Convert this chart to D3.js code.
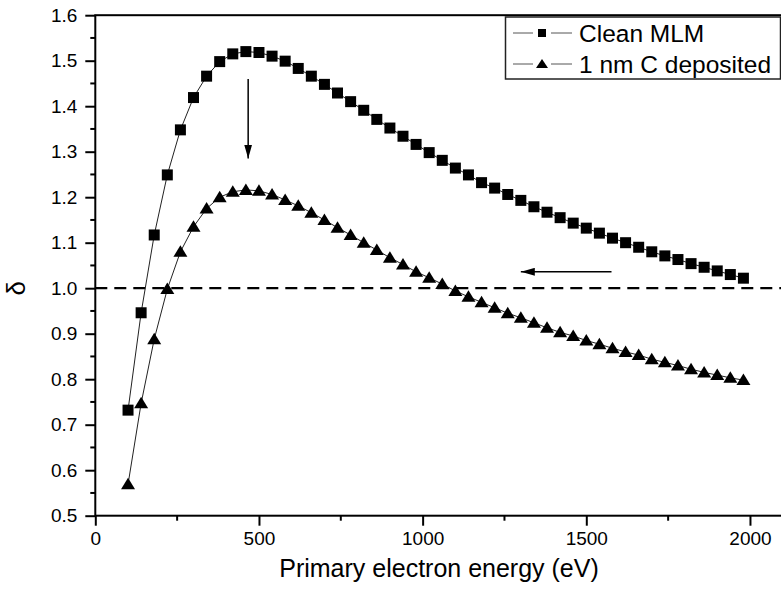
<!DOCTYPE html>
<meta charset="utf-8">
<head>
	<title>Secondary electron yield</title>
	<script type="text/javascript" src="https://cdn.jsdelivr.net/npm/d3@7"></script>
	<style>
		body { margin: 0; background: #fff; }
		svg { display: block; font-family: "Liberation Sans", Arial, sans-serif; }
		.tick text { font-size: 19px; fill: #000; }
	</style>
</head>

<body>
<div id="chart"></div>

<script>
	// primary energy (eV)
	var energy = [100, 140, 180, 220, 260, 300, 340, 380, 420, 460, 500, 540, 580, 620, 660, 700,
		740, 780, 820, 860, 900, 940, 980, 1020, 1060, 1100, 1140, 1180, 1220, 1260, 1300, 1340,
		1380, 1420, 1460, 1500, 1540, 1580, 1620, 1660, 1700, 1740, 1780, 1820, 1860, 1900, 1940, 1980];

	var cleanMLM = [0.732, 0.946, 1.117, 1.249, 1.348, 1.419, 1.466, 1.498, 1.515, 1.520, 1.518, 1.510,
		1.499, 1.483, 1.466, 1.448, 1.429, 1.410, 1.391, 1.371, 1.352, 1.334, 1.316, 1.298,
		1.281, 1.264, 1.249, 1.232, 1.220, 1.206, 1.193, 1.179, 1.167, 1.155, 1.143, 1.132,
		1.121, 1.110, 1.100, 1.090, 1.080, 1.071, 1.063, 1.054, 1.046, 1.038, 1.030, 1.022];

	var carbon1nm = [0.569, 0.747, 0.888, 0.998, 1.080, 1.135, 1.175, 1.200, 1.212, 1.216, 1.214, 1.206,
		1.194, 1.181, 1.166, 1.150, 1.133, 1.117, 1.100, 1.084, 1.067, 1.052, 1.036, 1.023,
		1.009, 0.994, 0.981, 0.969, 0.957, 0.945, 0.935, 0.924, 0.913, 0.903, 0.895, 0.885,
		0.877, 0.868, 0.860, 0.853, 0.844, 0.837, 0.830, 0.822, 0.815, 0.809, 0.803, 0.798];

	var xTicks = [0, 500, 1000, 1500, 2000];
	var yTicks = [0.5, 0.6, 0.7, 0.8, 0.9, 1.0, 1.1, 1.2, 1.3, 1.4, 1.5, 1.6];
	var legendLabels = ["Clean MLM", "1 nm C deposited"];

	// arrows [x1, y1, x2, y2] in data units
	var arrows = [[467, 1.46, 467, 1.285], [1577, 1.036, 1300, 1.036]];

	var width = 781, height = 593;

	var x = d3.scaleLinear().domain([0, 2100]).range([95.3, 782.7]);
	var y = d3.scaleLinear().domain([0.5, 1.6]).range([515.7, 15.2]);

	var svg = d3.select("#chart").append("svg")
		.attr("width", width)
		.attr("height", height);

	svg.append("defs").append("marker")
		.attr("id", "head")
		.attr("viewBox", "0 0 14 8")
		.attr("refX", 14).attr("refY", 4)
		.attr("markerWidth", 14).attr("markerHeight", 8)
		.attr("markerUnits", "userSpaceOnUse")
		.attr("orient", "auto")
		.append("path").attr("d", "M0,0 L14,4 L0,8 Z").attr("fill", "#000");

	// frame (top line + axes)
	svg.append("rect")
		.attr("x", x(0)).attr("y", y(1.6))
		.attr("width", x(2100) - x(0)).attr("height", y(0.5) - y(1.6))
		.attr("fill", "none").attr("stroke", "#000").attr("stroke-width", 2);

	// minor ticks
	svg.append("g").selectAll("line").data([250, 750, 1250, 1750]).join("line")
		.attr("x1", d => x(d)).attr("x2", d => x(d))
		.attr("y1", y(0.5)).attr("y2", y(0.5) + 5)
		.attr("stroke", "#000").attr("stroke-width", 2);

	svg.append("g").selectAll("line").data([0.55, 0.65, 0.75, 0.85, 0.95, 1.05, 1.15, 1.25, 1.35, 1.45, 1.55]).join("line")
		.attr("x1", x(0) - 5).attr("x2", x(0))
		.attr("y1", d => y(d)).attr("y2", d => y(d))
		.attr("stroke", "#000").attr("stroke-width", 2);

	var xAxis = svg.append("g")
		.attr("transform", "translate(0," + y(0.5) + ")")
		.call(d3.axisBottom(x).tickValues(xTicks).tickSize(10).tickPadding(6).tickFormat(d3.format("d")));
	xAxis.select(".domain").remove();
	xAxis.selectAll(".tick line").attr("stroke-width", 2);

	var yAxis = svg.append("g")
		.attr("transform", "translate(" + x(0) + ",0)")
		.call(d3.axisLeft(y).tickValues(yTicks).tickSize(10).tickPadding(8).tickFormat(d3.format(".1f")));
	yAxis.select(".domain").remove();
	yAxis.selectAll(".tick line").attr("stroke-width", 2);
	xAxis.attr("font-family", null).attr("font-size", null);
	yAxis.attr("font-family", null).attr("font-size", null);

	// axis titles
	svg.append("text")
		.attr("x", (x(0) + x(2100)) / 2).attr("y", 577)
		.attr("text-anchor", "middle")
		.attr("font-size", 25)
		.text("Primary electron energy (eV)");

	svg.append("text")
		.attr("transform", "translate(25," + y(1.0) + ") rotate(-90)")
		.attr("text-anchor", "middle")
		.attr("font-size", 26)
		.text("δ");

	// reference line at delta = 1
	svg.append("line")
		.attr("x1", x(0)).attr("x2", x(2100))
		.attr("y1", y(1.0)).attr("y2", y(1.0))
		.attr("stroke", "#000").attr("stroke-width", 2.2)
		.attr("stroke-dasharray", "12,7");

	var line = d3.line()
		.x((d, i) => x(energy[i]))
		.y(d => y(d));

	var triPath = "M0,-6.5 L7,5 L-7,5 Z";

	[cleanMLM, carbon1nm].forEach(function(series, k) {
		svg.append("path")
			.datum(series)
			.attr("d", line)
			.attr("fill", "none")
			.attr("stroke", "#222")
			.attr("stroke-width", 1);

		var pts = svg.append("g").selectAll("path").data(series).join("path")
			.attr("transform", (d, i) => "translate(" + x(energy[i]) + "," + y(d) + ")")
			.attr("fill", "#000");
		if (k == 0) pts.attr("d", "M-5.5,-5.5 H5.5 V5.5 H-5.5 Z");
		else pts.attr("d", triPath);
	});

	// arrows
	svg.append("g").selectAll("line").data(arrows).join("line")
		.attr("x1", d => x(d[0])).attr("y1", d => y(d[1]))
		.attr("x2", d => x(d[2])).attr("y2", d => y(d[3]))
		.attr("stroke", "#000").attr("stroke-width", 1.5)
		.attr("marker-end", "url(#head)");

	// legend
	var legend = svg.append("g");
	legend.append("rect")
		.attr("x", 505.5).attr("y", 17)
		.attr("width", 275).attr("height", 62)
		.attr("fill", "#fff").attr("stroke", "#222").attr("stroke-width", 1.5);

	var rows = legend.selectAll("g.row").data(legendLabels).join("g")
		.attr("class", "row")
		.attr("transform", (d, i) => "translate(0," + (33 + i * 31) + ")");

	rows.append("line")
		.attr("x1", 513).attr("x2", 572)
		.attr("stroke", "#555").attr("stroke-width", 1);
	rows.append("rect")
		.attr("x", 533).attr("y", -6).attr("width", 18).attr("height", 12)
		.attr("fill", "#fff");
	rows.append("path")
		.attr("transform", "translate(542,0)")
		.attr("d", (d, i) => i == 0 ? "M-4,-4 H4 V4 H-4 Z" : "M0,-5 L6,4 L-6,4 Z")
		.attr("fill", "#000");
	rows.append("text")
		.attr("x", 579).attr("y", 8.5)
		.attr("font-size", 24.5)
		.text(d => d);
</script>
</body>
